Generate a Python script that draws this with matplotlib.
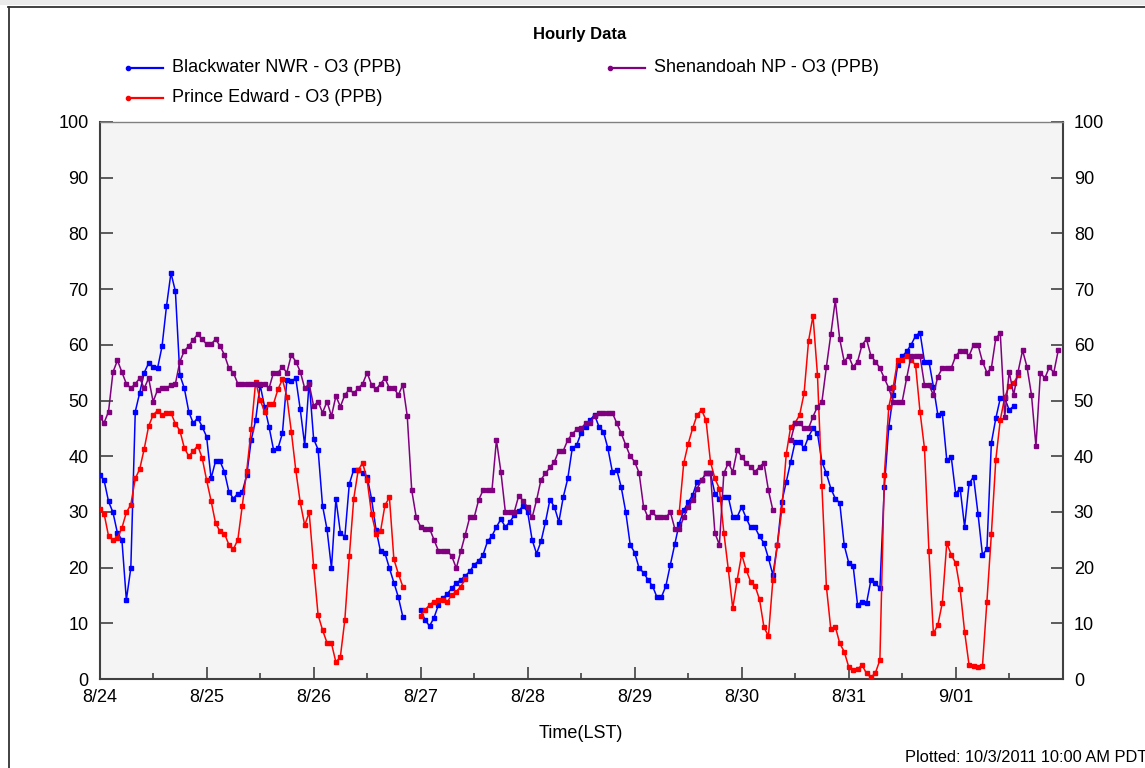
import numpy as np
import matplotlib
matplotlib.use("Agg")
import matplotlib.pyplot as plt
from matplotlib.lines import Line2D
from matplotlib.patches import Rectangle

nan = np.nan

# hourly O3 (ppb) starting 8/24 00:00 LST
blackwater = [
    36.6, 35.7, 31.9, 29.9, 26.2, 25.0, 14.2, 19.9, 48.0, 51.4, 55.0, 56.7,
    56.0, 55.8, 59.7, 66.9, 72.9, 69.6, 54.6, 52.2, 48.0, 45.9, 46.9, 45.3,
    43.5, 36.0, 39.1, 39.1, 37.2, 33.6, 32.4, 33.3, 33.6, 36.6, 42.9, 46.5,
    52.8, 48.9, 45.3, 41.2, 41.4, 44.1, 53.7, 53.5, 54.0, 48.4, 42.0, 53.4,
    43.1, 41.2, 31.1, 26.9, 19.9, 32.3, 26.3, 25.5, 35.0, 37.6, 37.6, 36.9,
    36.3, 32.3, 26.8, 22.9, 22.6, 19.9, 17.3, 14.7, 11.2, nan, nan, nan,
    12.3, 10.6, 9.5, 11.0, 13.3, 14.5, 15.3, 16.3, 17.2, 17.8, 18.5, 19.3,
    20.5, 21.2, 22.3, 24.7, 25.7, 27.3, 28.7, 27.3, 28.2, 29.4, 30.2, 31.1,
    30.0, 25.0, 22.5, 24.7, 28.2, 32.2, 30.9, 28.2, 32.7, 36.0, 41.4, 42.0,
    44.2, 45.3, 46.5, 47.4, 45.3, 44.4, 41.4, 37.2, 37.5, 34.4, 30.0, 24.1,
    22.7, 19.9, 19.1, 17.8, 16.7, 14.7, 14.7, 16.7, 20.5, 24.2, 27.9, 30.3,
    31.7, 33.0, 35.4, 35.7, 36.9, 36.9, 33.3, 32.4, 32.7, 32.7, 29.1, 29.1,
    30.9, 28.9, 27.2, 27.2, 25.6, 24.4, 21.7, 18.7, 24.1, 31.8, 35.4, 39.0,
    42.6, 42.6, 41.4, 43.5, 45.0, 44.1, 39.0, 36.9, 34.2, 32.4, 31.6, 24.0,
    20.9, 20.3, 13.3, 13.9, 13.6, 17.8, 17.2, 16.3, 34.5, 45.3, 51.0, 56.4,
    57.9, 58.8, 60.0, 61.6, 62.2, 57.0, 57.0, 52.5, 47.4, 47.7, 39.3, 39.9,
    33.3, 34.2, 27.3, 35.1, 36.3, 29.7, 22.3, 23.3, 42.4, 46.8, 50.4, 50.4,
    48.3, 49.0,
]

prince_edward = [
    30.5, 29.7, 25.7, 24.9, 25.3, 27.1, 29.9, 31.3, 36.0, 37.7, 41.3, 45.4,
    47.4, 48.2, 47.4, 47.8, 47.8, 45.8, 44.6, 41.5, 40.0, 40.9, 41.9, 39.7,
    35.7, 32.0, 28.0, 26.5, 26.1, 24.1, 23.3, 25.0, 31.1, 37.4, 44.8, 53.4,
    50.1, 48.0, 49.4, 49.4, 52.0, 53.8, 50.7, 44.4, 37.5, 31.7, 27.6, 29.9,
    20.3, 11.5, 8.8, 6.5, 6.4, 3.0, 4.0, 10.6, 22.0, 32.4, 37.5, 38.8,
    35.7, 29.6, 26.1, 26.5, 31.2, 32.6, 21.5, 18.9, 16.6, nan, nan, nan,
    11.3, 12.4, 13.3, 13.9, 14.1, 14.2, 13.9, 15.1, 15.7, 16.6, 17.9,
] + [nan] * 47 + [
    29.9, 38.7, 42.2, 45.0, 47.4, 48.3, 46.5, 39.0, 36.0, 34.2, 26.3, 19.7,
    12.7, 17.8, 22.4, 19.6, 17.5, 16.7, 14.3, 9.3, 7.7, 17.8, 24.0, 30.3,
    40.4, 45.3, 46.0, 47.4, 51.3, 60.7, 65.2, 54.6, 34.6, 16.6, 8.9, 9.4,
    6.4, 4.9, 2.2, 1.7, 1.8, 2.5, 1.0, 0.3, 1.1, 3.4, 36.6, 48.9,
    52.5, 57.3, 57.3, 58.0, 57.2, 56.4, 48.0, 41.4, 22.9, 8.2, 9.7, 13.7,
    24.4, 22.3, 20.8, 16.1, 8.5, 2.5, 2.3, 2.1, 2.3, 13.9, 26.0, 39.4,
    46.5, 50.6, 52.6, 53.1, 54.6,
]

shenandoah = [
    47.1, 46.0, 48.0, 55.1, 57.2, 55.1, 53.0, 52.2, 53.0, 54.0, 52.2, 54.0,
    49.8, 51.9, 52.2, 52.2, 52.8, 53.0, 57.0, 58.9, 59.8, 60.9, 61.9, 61.0,
    60.1, 60.1, 61.0, 59.8, 58.2, 55.8, 55.0, 53.0, 53.0, 53.0, 53.0, 53.0,
    53.0, 53.0, 52.2, 55.0, 55.0, 56.0, 55.0, 58.2, 57.0, 55.2, 52.2, 53.0,
    49.0, 49.8, 47.8, 49.8, 47.2, 50.8, 48.9, 51.0, 52.0, 51.3, 52.2, 53.0,
    55.0, 52.8, 52.0, 53.0, 54.0, 52.2, 52.2, 51.0, 52.8, 47.2, 33.9, 29.1,
    27.3, 27.0, 27.0, 25.0, 23.0, 23.0, 23.0, 22.0, 19.9, 22.9, 25.9, 29.0,
    29.0, 32.1, 33.9, 33.9, 33.9, 42.9, 37.2, 30.0, 30.0, 30.0, 32.9, 32.0,
    30.8, 29.0, 32.1, 35.8, 36.9, 38.0, 39.0, 41.0, 41.0, 42.9, 44.0, 44.8,
    45.0, 45.9, 46.0, 47.2, 47.8, 47.8, 47.8, 47.8, 45.9, 44.1, 42.0, 40.0,
    39.0, 37.0, 30.9, 29.0, 30.0, 29.0, 29.0, 29.0, 30.0, 27.0, 27.0, 29.0,
    30.9, 32.1, 34.2, 35.7, 36.9, 36.9, 26.2, 24.1, 36.9, 38.8, 37.2, 41.1,
    39.9, 38.8, 38.1, 37.2, 38.1, 38.8, 33.9, 30.3, nan, nan, nan, 42.9,
    46.0, 46.0, 45.0, 45.0, 47.1, 48.9, 49.8, 56.0, 61.9, 68.0, 61.0, 57.0,
    58.0, 56.0, 57.0, 60.0, 61.0, 58.0, 57.0, 55.8, 54.0, 52.2, 49.8, 49.8,
    49.8, 54.0, 58.0, 58.0, 58.0, 52.8, 52.8, 51.0, 54.3, 55.8, 55.8, 55.8,
    58.0, 58.9, 58.9, 58.0, 60.0, 60.0, 57.0, 55.0, 55.8, 61.2, 62.1, 47.1,
    55.2, 51.0, 55.2, 59.0, 56.0, 51.0, 41.8, 55.0, 54.0, 56.0, 55.0, 59.0,
]

day_labels = ["8/24", "8/25", "8/26", "8/27", "8/28", "8/29", "8/30", "8/31", "9/01"]
y_ticks = list(range(0, 101, 10))

series = [
    ("Blackwater NWR - O3 (PPB)", blackwater, "#0000FF"),
    ("Prince Edward - O3 (PPB)", prince_edward, "#FF0000"),
    ("Shenandoah NP - O3 (PPB)", shenandoah, "#800080"),
]

plt.rcParams["font.family"] = ["Liberation Sans", "DejaVu Sans"]

W, H = 1145, 768
fig = plt.figure(figsize=(W / 100, H / 100), dpi=100)

# outer frame of the screenshot
fig.add_artist(Rectangle((0, 1 - 5 / H), 1, 5 / H, transform=fig.transFigure,
                         color="#EBEBEB", lw=0))
fig.add_artist(Line2D([8 / W, 1], [1 - 6.5 / H, 1 - 6.5 / H], color="#333333", lw=1.3))
fig.add_artist(Line2D([8.5 / W, 8.5 / W], [0, 1 - 6.5 / H], color="#333333", lw=1.3))

ax = fig.add_axes([99.6 / W, 1 - 679 / H, (1062.7 - 99.6) / W, (679 - 122) / H])
ax.set_facecolor("#F4F4F4")

for name, values, color in series:
    hours = np.arange(len(values))
    ax.plot(hours, values, color=color, lw=1.1, marker="s", ms=2.8,
            mec=color, mfc=color, zorder=3)

ax.set_xlim(0, 216)
ax.set_ylim(0, 100)
ax.set_xticks(np.arange(len(day_labels)) * 24)
ax.set_xticklabels(day_labels)
ax.set_xticks(np.arange(12, 216, 24), minor=True)
ax.set_yticks(y_ticks)
ax.tick_params(axis="x", which="major", direction="in", length=9, width=1.2,
               color="#404040", labelsize=13, pad=7)
ax.tick_params(axis="x", which="minor", direction="in", length=4.5, width=1.2,
               color="#404040")
ax.tick_params(axis="y", direction="in", length=9, width=1.2, color="#404040",
               labelsize=13, pad=8, right=True, labelright=True)
for sp in ax.spines.values():
    sp.set_color("#404040")
    sp.set_linewidth(1.5)
ax.spines["top"].set_color("#808080")
ax.spines["top"].set_linewidth(1.0)

ax.set_xlabel("Time(LST)", fontsize=13, labelpad=14)

fig.text(580 / W, 1 - 34 / H, "Hourly Data", fontsize=12, fontweight="bold",
         ha="center", va="center")

# legend rows laid out like the original
legend_pos = {
    "Blackwater NWR - O3 (PPB)": (128, 68),
    "Prince Edward - O3 (PPB)": (128, 98),
    "Shenandoah NP - O3 (PPB)": (610, 68),
}
for name, values, color in series:
    x0, y0 = legend_pos[name]
    fy = 1 - y0 / H
    fig.add_artist(Line2D([x0 / W, (x0 + 35) / W], [fy, fy], color=color, lw=1.6,
                          marker="o", ms=3, markevery=[0], transform=fig.transFigure))
    fig.text((x0 + 44) / W, fy, name, fontsize=13, ha="left", va="center")

fig.text(905 / W, 1 - 757 / H, "Plotted: 10/3/2011 10:00 AM PDT", fontsize=11.8,
         ha="left", va="center")

fig.savefig("out.png", dpi=100)
